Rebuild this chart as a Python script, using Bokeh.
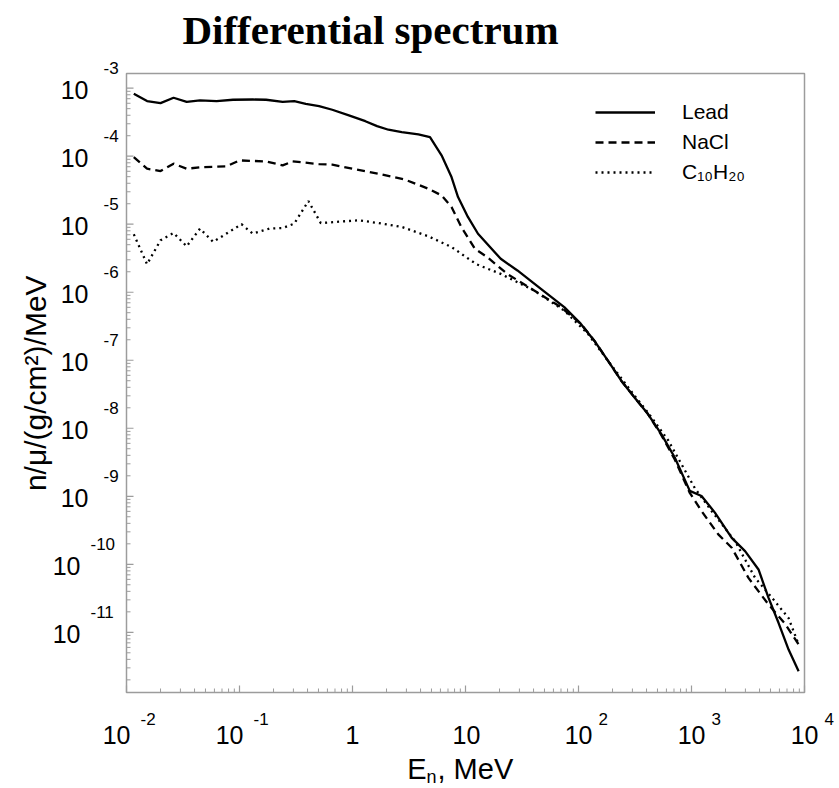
import math
from bokeh.plotting import figure
from bokeh.models import Range1d, Label, Legend, LegendItem
from bokeh.embed import file_html
from bokeh.resources import INLINE

# ---------------- data ----------------
energy_lead = [0.0116, 0.0152, 0.0200, 0.0261, 0.0341, 0.0447, 0.0627, 0.0877, 0.131, 0.172,
               0.241, 0.305, 0.386, 0.506, 0.662, 0.929, 1.30, 1.65, 2.08, 2.73,
               3.83, 4.85, 6.14, 7.52, 8.59, 10.5, 12.9, 20.5, 28.8, 46.5,
               74.8, 105, 138, 182, 239, 313, 412, 541, 711, 966,
               1227, 1611, 2270, 2979, 3917, 4797, 5888, 7228, 8872]
flux_lead = [8.28e-4, 6.46e-4, 6.03e-4, 7.23e-4, 6.31e-4, 6.61e-4, 6.46e-4, 6.76e-4, 6.82e-4, 6.76e-4,
             6.31e-4, 6.46e-4, 5.89e-4, 5.45e-4, 4.82e-4, 3.98e-4, 3.27e-4, 2.77e-4, 2.45e-4, 2.26e-4,
             2.09e-4, 1.91e-4, 1.03e-4, 4.93e-5, 2.51e-5, 1.28e-5, 7.24e-6, 3.10e-6, 2.09e-6, 1.12e-6,
             6.03e-7, 3.42e-7, 1.94e-7, 9.86e-8, 5.01e-8, 2.84e-8, 1.62e-8, 8.18e-9, 3.72e-9, 1.20e-9,
             1.01e-9, 5.75e-10, 2.45e-10, 1.56e-10, 8.39e-11, 3.24e-11, 1.38e-11, 5.57e-12, 2.67e-12]

energy_nacl = [0.0116, 0.0152, 0.0200, 0.0261, 0.0341, 0.0479, 0.0767, 0.100, 0.172, 0.241,
               0.295, 0.506, 0.662, 0.993, 1.70, 2.92, 4.69, 6.14, 7.52, 9.18,
               12.1, 15.6, 23.4, 40.5, 69.8, 105, 138, 182, 239, 313,
               412, 541, 711, 966, 1227, 1726, 2270, 3192, 4797, 6761, 8872]
flux_nacl = [9.70e-5, 6.55e-5, 6.04e-5, 7.76e-5, 6.55e-5, 6.92e-5, 7.08e-5, 8.67e-5, 8.39e-5, 7.33e-5,
             8.39e-5, 7.66e-5, 7.50e-5, 6.55e-5, 5.53e-5, 4.52e-5, 3.33e-5, 2.65e-5, 1.79e-5, 9.12e-6,
             4.37e-6, 3.27e-6, 1.86e-6, 1.06e-6, 6.03e-7, 3.42e-7, 1.94e-7, 9.86e-8, 5.01e-8, 2.84e-8,
             1.62e-8, 7.94e-9, 3.47e-9, 1.12e-9, 6.07e-10, 2.75e-10, 1.75e-10, 6.31e-11, 2.57e-11, 1.32e-11, 6.61e-12]

energy_poly = [0.0116, 0.0152, 0.0200, 0.0261, 0.0341, 0.0447, 0.0585, 0.104, 0.131, 0.184,
               0.241, 0.305, 0.407, 0.524, 0.759, 1.14, 1.70, 2.73, 4.69, 7.52,
               12.5, 20.5, 40.5, 74.8, 121, 182, 313, 412, 621, 815,
               1072, 1507, 2427, 3656, 5140, 7228, 8872]
flux_poly = [7.11e-6, 2.58e-6, 5.81e-6, 7.43e-6, 4.73e-6, 8.61e-6, 5.50e-6, 1.00e-5, 7.28e-6, 8.61e-6,
             8.79e-6, 1.02e-5, 2.19e-5, 1.04e-5, 1.09e-5, 1.14e-5, 1.04e-5, 9.12e-6, 6.64e-6, 4.62e-6,
             2.58e-6, 1.86e-6, 1.06e-6, 5.37e-7, 2.45e-7, 9.86e-8, 3.02e-8, 1.70e-8, 6.68e-9, 2.96e-9,
             1.31e-9, 6.07e-10, 2.19e-10, 6.31e-11, 3.24e-11, 1.62e-11, 6.61e-12]

series_names = ["Lead", "NaCl", "C\u2081\u2080H\u2082\u2080"]

x_tick_values = [1e-2, 1e-1, 1, 10, 1e2, 1e3, 1e4]
x_tick_base = ["10", "10", "1", "10", "10", "10", "10"]
x_tick_exp = ["-2", "-1", "", "", "2", "3", "4"]

y_tick_values = [1e-3, 1e-4, 1e-5, 1e-6, 1e-7, 1e-8, 1e-9, 1e-10, 1e-11]
y_tick_base = ["10"] * 9
y_tick_exp = ["-3", "-4", "-5", "-6", "-7", "-8", "-9", "-10", "-11"]

X_LIMITS = (1e-2, 1e4)
Y_LIMITS = (10 ** -11.885, 10 ** -2.784)

x_minor_ticks = [m * 10.0 ** k for k in range(-2, 4) for m in range(2, 10)]
y_minor_ticks = [m * 10.0 ** k for k in range(-12, -2) for m in range(2, 10)
                 if Y_LIMITS[0] < m * 10.0 ** k < Y_LIMITS[1]]

TITLE = "Differential spectrum"
X_LABEL_MAIN, X_LABEL_SUB, X_LABEL_REST = "E", "n", ", MeV"
Y_LABEL = "n/\u03bc/(g/cm\u00b2)/MeV"

# ---------------- layout (pixels) ----------------
W, H = 839, 788
BOX_L, BOX_R, BOX_T, BOX_B = 126, 804, 73, 692   # plotting box inside the canvas

lx0, lx1 = math.log10(X_LIMITS[0]), math.log10(X_LIMITS[1])
ly0, ly1 = math.log10(Y_LIMITS[0]), math.log10(Y_LIMITS[1])
px_x = (BOX_R - BOX_L) / (lx1 - lx0)
px_y = (BOX_B - BOX_T) / (ly1 - ly0)
x_range = Range1d(10 ** (lx0 - BOX_L / px_x), 10 ** (lx1 + (W - BOX_R) / px_x))
y_range = Range1d(10 ** (ly0 - (H - BOX_B) / px_y), 10 ** (ly1 + BOX_T / px_y))

FONT = "Liberation Sans"
GRAY = "#9c9c9c"

p = figure(width=W, height=H, x_axis_type="log", y_axis_type="log",
           x_range=x_range, y_range=y_range,
           x_axis_location=None, y_axis_location=None,
           output_backend="svg", toolbar_location=None,
           min_border=0, min_border_left=0, min_border_right=0,
           min_border_top=0, min_border_bottom=0)
p.background_fill_color = "white"
p.border_fill_color = "white"
p.outline_line_color = None
p.grid.visible = False

# plotting box
p.quad(left=[X_LIMITS[0]], right=[X_LIMITS[1]], bottom=[Y_LIMITS[0]], top=[Y_LIMITS[1]],
       fill_color=None, line_color=GRAY, line_width=1.5)

# ticks (pointing inward)
p.ray(x=[X_LIMITS[0]] * len(y_tick_values), y=y_tick_values, length=7, length_units="screen",
      angle=0, line_color=GRAY, line_width=1.2)
p.ray(x=[X_LIMITS[0]] * len(y_minor_ticks), y=y_minor_ticks, length=4, length_units="screen",
      angle=0, line_color=GRAY, line_width=1)
p.ray(x=x_tick_values, y=[Y_LIMITS[0]] * len(x_tick_values), length=7, length_units="screen",
      angle=math.pi / 2, line_color=GRAY, line_width=1.2)
p.ray(x=x_minor_ticks, y=[Y_LIMITS[0]] * len(x_minor_ticks), length=4, length_units="screen",
      angle=math.pi / 2, line_color=GRAY, line_width=1)

# data curves
r_lead = p.line(energy_lead, flux_lead, line_color="black", line_width=2.3)
r_nacl = p.line(energy_nacl, flux_nacl, line_color="black", line_width=2.3, line_dash="8 5")
r_poly = p.line(energy_poly, flux_poly, line_color="black", line_width=2.3, line_dash="2 4")

legend = Legend(items=[LegendItem(label=series_names[0], renderers=[r_lead]),
                       LegendItem(label=series_names[1], renderers=[r_nacl]),
                       LegendItem(label=series_names[2], renderers=[r_poly])],
                location=(595, 604), border_line_color=None, background_fill_alpha=0,
                label_text_font=FONT, label_text_font_size="21px", label_text_color="black",
                glyph_width=60, glyph_height=20, label_height=20, spacing=6,
                padding=0, margin=0, label_standoff=27)
p.add_layout(legend)


def add_label(x, y, dx, dy, text, size, align, font=FONT, style="normal", angle=0.0):
    p.add_layout(Label(x=x, y=y, x_units="data", y_units="data", x_offset=dx, y_offset=dy,
                       text=text, text_align=align, text_baseline="middle", angle=angle,
                       text_font=font, text_font_style=style, text_font_size=size,
                       text_color="black"))


# ---------------- tick labels ----------------
for xv, base, ex in zip(x_tick_values, x_tick_base, x_tick_exp):
    if ex:
        neg = ex.startswith("-")
        add_label(xv, Y_LIMITS[0], 4 if neg else 14, -42, base, "25px", "right")
        add_label(xv, Y_LIMITS[0], 14 if neg else 20, -26, ex, "17px", "left")
    else:
        add_label(xv, Y_LIMITS[0], 0 if base == "1" else 1, -42, base, "25px", "center")

for yv, base, ex in zip(y_tick_values, y_tick_base, y_tick_exp):
    long_exp = len(ex) > 2
    add_label(X_LIMITS[0], yv, -46 if long_exp else -38, -2, base, "25px", "right")
    add_label(X_LIMITS[0], yv, -36 if long_exp else -23, 20, ex, "17px", "left")

# ---------------- title and axis labels ----------------
add_label(X_LIMITS[0], Y_LIMITS[1], 244, 44, TITLE, "41px", "center",
          font="Liberation Serif", style="bold")

add_label(10, Y_LIMITS[0], -39, -76, X_LABEL_MAIN, "29px", "right")
add_label(10, Y_LIMITS[0], -39, -84, X_LABEL_SUB, "18px", "left")
add_label(10, Y_LIMITS[0], -28, -76, X_LABEL_REST, "29px", "left")

add_label(X_LIMITS[0], 1e-7, -91, -23, Y_LABEL, "30px", "center", angle=math.pi / 2)

open("out.html", "w").write(file_html(p, INLINE))
